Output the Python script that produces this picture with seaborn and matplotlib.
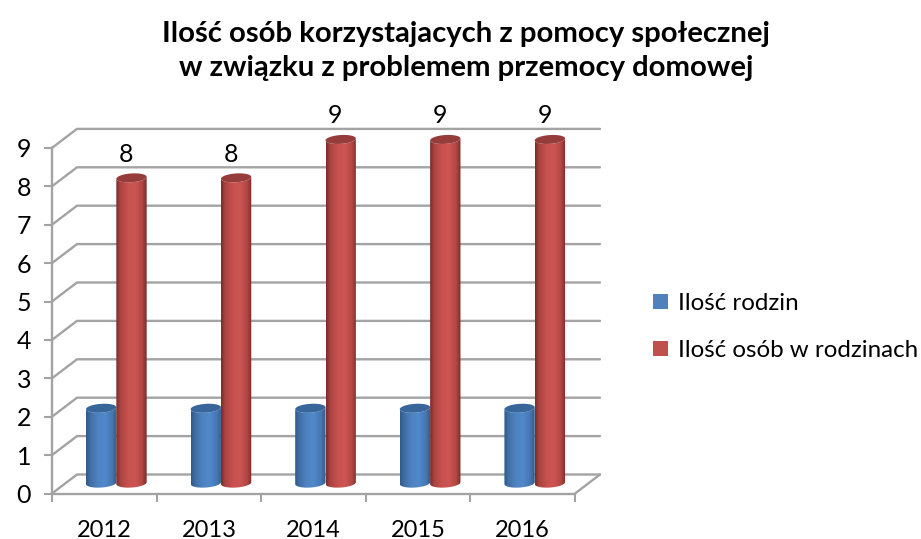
import numpy as np
import pandas as pd
import matplotlib
matplotlib.use("Agg")
import matplotlib.pyplot as plt
import seaborn as sns
from matplotlib.patches import Patch, PathPatch, Polygon
from matplotlib.path import Path
from matplotlib.colors import LinearSegmentedColormap

years = ["2012", "2013", "2014", "2015", "2016"]
rodziny = [2, 2, 2, 2, 2]
osoby = [8, 8, 9, 9, 9]
series_names = ["Ilość rodzin", "Ilość osób w rodzinach"]
title = "Ilość osób korzystajacych z pomocy społecznej\nw związku z problemem przemocy domowej"

sns.set_theme(style="white")
plt.rcParams["font.family"] = ["Lato", "DejaVu Sans"]

W, H = 921, 539
GRAY = "#A3A3A3"
fig = plt.figure(figsize=(W / 100, H / 100), dpi=100)
ax = fig.add_axes([52 / W, (H - 493.5) / H, 523 / W, 345.6 / H])
ax.patch.set_alpha(0)

df = pd.DataFrame({
    "Rok": years * 2,
    "Wartosc": rodziny + osoby,
    "Seria": [series_names[0]] * 5 + [series_names[1]] * 5,
})
base_colors = ["#4F81BD", "#C0504D"]
sns.barplot(data=df, x="Rok", y="Wartosc", hue="Seria", palette=base_colors,
            width=0.58, gap=0, legend=False, ax=ax, saturation=1)

ax.set_xlim(-0.5, 4.5)
ax.set_ylim(0, 9)
ax.set_xlabel("")
ax.set_ylabel("")

# pseudo-3D box
dx, dy = 25 / 104.6, 19 / 38.4
for v in range(10):
    ax.plot([-0.5, -0.5 + dx, 4.5 + dx], [v, v + dy, v + dy], color=GRAY, lw=1.7,
            clip_on=False, zorder=0, solid_joinstyle="miter")
ax.plot([4.5, 4.5 + dx], [0, dy], color=GRAY, lw=1.7, clip_on=False, zorder=0)

for s in ["top", "right"]:
    ax.spines[s].set_visible(False)
for s in ["left", "bottom"]:
    ax.spines[s].set_color(GRAY)
    ax.spines[s].set_linewidth(1.7)
ax.set_yticks(range(10))
ax.set_xticks(np.arange(-0.5, 5, 1), minor=True)
ax.tick_params(axis="x", which="major", length=0, labelsize=17, pad=19, labelcolor="black")
ax.tick_params(axis="x", which="minor", length=6, width=1.5, color=GRAY, bottom=True)
ax.tick_params(axis="y", length=6, width=1.5, color=GRAY, left=True, labelsize=18, pad=9,
               labelcolor="black")

# cylinders built from the bars seaborn has placed
xshift, top_shift, base_shift = 0.115, 0.22, 0.27
cap_h, tilt = 0.115, 0.025
shades = [
    (["#2F5A88", "#4270A6", "#4F84C4", "#5088CA", "#4677B2", "#2F5A88"], "#38659A"),
    (["#7A2C2A", "#AC4542", "#C8524F", "#CC5553", "#B24744", "#7A2C2A"], "#963D3B"),
]
stops = [0, 0.14, 0.4, 0.62, 0.85, 1]
bars = list(ax.patches)
for i, bar in enumerate(bars):
    bar.set_visible(False)
    cols, cap_col = shades[0 if i < 5 else 1]
    cmap = LinearSegmentedColormap.from_list("c", list(zip(stops, cols)))
    x0 = bar.get_x() + xshift
    w = bar.get_width()
    v = bar.get_height()
    z = 3 + (i % 5) * 0.1 + (0.05 if i >= 5 else 0)
    cx = x0 + w / 2
    t = np.linspace(np.pi, 2 * np.pi, 30)
    bx = cx + w / 2 * np.cos(t)
    by = base_shift + cap_h * np.sin(t) + tilt * np.cos(t)
    tt = np.linspace(2 * np.pi, np.pi, 30)
    tx = cx + w / 2 * np.cos(tt)
    ty = v + top_shift + cap_h * np.sin(tt) + tilt * np.cos(tt)
    verts = np.vstack([np.column_stack([bx, by]), np.column_stack([tx, ty]), [[bx[0], by[0]]]])
    codes = [Path.MOVETO] + [Path.LINETO] * (len(verts) - 2) + [Path.CLOSEPOLY]
    body = PathPatch(Path(verts, codes), transform=ax.transData, facecolor="none",
                     edgecolor="none", clip_on=False)
    ax.add_patch(body)
    im = ax.imshow(np.linspace(0, 1, 64).reshape(1, -1), cmap=cmap, aspect="auto",
                   extent=[x0, x0 + w, -0.2, v + top_shift + 0.2], zorder=z, interpolation="bilinear")
    im.set_clip_box(fig.bbox)
    im.set_clip_path(body)
    ct = np.linspace(0, 2 * np.pi, 60)
    cap = Polygon(np.column_stack([cx + w / 2 * np.cos(ct),
                                   v + top_shift + cap_h * np.sin(ct) + tilt * np.cos(ct)]),
                  closed=True, facecolor=cap_col, edgecolor="none", zorder=z + 0.01, clip_on=False)
    ax.add_patch(cap)
    if i >= 5:
        ax.annotate(f"{v:.0f}", (cx - 0.05, v + top_shift), xytext=(0, 17),
                    textcoords="offset points", ha="center", va="center",
                    fontsize=18, color="black", annotation_clip=False, zorder=10)

ax.set_xlim(-0.5, 4.5)
ax.set_ylim(0, 9)

fig.suptitle(title, x=466 / W, y=1 - 51 / H, va="center", ha="center",
             fontsize=21.1, fontweight="bold", color="black", linespacing=1.36)

handles = [Patch(facecolor=c, edgecolor="none") for c in base_colors]
fig.legend(handles, series_names, loc="upper left", bbox_to_anchor=(653 / W, 1 - 293 / H),
           frameon=False, fontsize=17.4, handlelength=0.62, handleheight=0.62,
           handletextpad=0.4, labelspacing=1.08, borderpad=0, borderaxespad=0, labelcolor="black")

fig.savefig("out.png", dpi=100)
